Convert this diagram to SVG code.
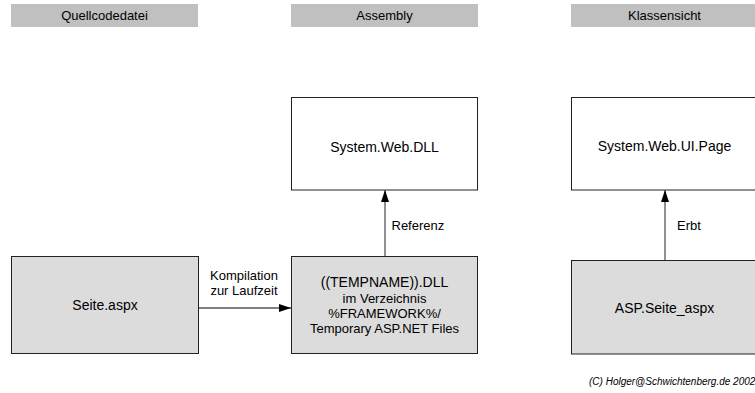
<svg xmlns="http://www.w3.org/2000/svg" width="755" height="393" viewBox="0 0 755 393">
  <style>
    text { font-family: "Liberation Sans", Arial, sans-serif; fill: #000; }
    .hdr { fill: #c0c0c0; }
    .hdr-t { font-size: 13px; text-anchor: middle; }
    .box { stroke: #222; stroke-width: 1; }
    .grey { fill: #dcdcdc; }
    .white { fill: #ffffff; }
    .lbl { font-size: 14px; text-anchor: middle; }
    .sub { font-size: 13px; text-anchor: middle; }
    .edge { stroke: #555; stroke-width: 1.3; fill: none; }
    .elbl { font-size: 13px; }
    .copy { font-size: 10px; font-style: italic; }
  </style>
  <defs>
    <marker id="arrow" viewBox="0 0 12 8" refX="12" refY="4" markerWidth="12" markerHeight="8" markerUnits="userSpaceOnUse" orient="auto">
      <path d="M0,0 L12,4 L0,8 Z" fill="#000"/>
    </marker>
  </defs>

  <!-- column headers -->
  <g id="header-quellcode">
    <rect class="hdr" x="11" y="4" width="187" height="23"/>
    <text class="hdr-t" x="104.5" y="20">Quellcodedatei</text>
  </g>
  <g id="header-assembly">
    <rect class="hdr" x="291" y="4" width="187" height="23"/>
    <text class="hdr-t" x="384.5" y="20">Assembly</text>
  </g>
  <g id="header-klassen">
    <rect class="hdr" x="571" y="4" width="190" height="23"/>
    <text class="hdr-t" x="664.5" y="20">Klassensicht</text>
  </g>

  <!-- nodes -->
  <g id="node-seite">
    <rect class="box grey" x="11.5" y="256.5" width="187" height="97"/>
    <text class="lbl" x="105" y="310">Seite.aspx</text>
  </g>
  <g id="node-tempdll">
    <rect class="box grey" x="291.5" y="256.5" width="186" height="97"/>
    <text class="lbl" x="384.5" y="286.5">((TEMPNAME)).DLL</text>
    <text class="sub" x="384.5" y="303">im Verzeichnis</text>
    <text class="sub" x="384.5" y="317.5">%FRAMEWORK%/</text>
    <text class="sub" x="384.5" y="332.5">Temporary ASP.NET Files</text>
  </g>
  <g id="node-systemweb">
    <rect class="box white" x="291.5" y="97.5" width="186" height="92.5"/>
    <text class="lbl" x="384.5" y="152">System.Web.DLL</text>
  </g>
  <g id="node-page">
    <rect class="box white" x="571.5" y="97.5" width="192" height="92.5"/>
    <text class="lbl" x="664.5" y="151">System.Web.UI.Page</text>
  </g>
  <g id="node-aspseite">
    <rect class="box grey" x="571.5" y="260.5" width="192" height="93.5"/>
    <text class="lbl" x="664.5" y="313">ASP.Seite_aspx</text>
  </g>

  <!-- connectors -->
  <g id="connectors">
    <line class="edge" x1="199" y1="308" x2="291" y2="308" marker-end="url(#arrow)"/>
    <text class="elbl" x="244" y="280" text-anchor="middle">Kompilation</text>
    <text class="elbl" x="244" y="295" text-anchor="middle">zur Laufzeit</text>

    <line class="edge" x1="385" y1="256" x2="385" y2="190" marker-end="url(#arrow)"/>
    <text class="elbl" x="391.5" y="230">Referenz</text>

    <line class="edge" x1="665" y1="260" x2="665" y2="190" marker-end="url(#arrow)"/>
    <text class="elbl" x="677" y="230">Erbt</text>
  </g>

  <text class="copy" x="589" y="385">(C) Holger@Schwichtenberg.de 2002</text>
</svg>
